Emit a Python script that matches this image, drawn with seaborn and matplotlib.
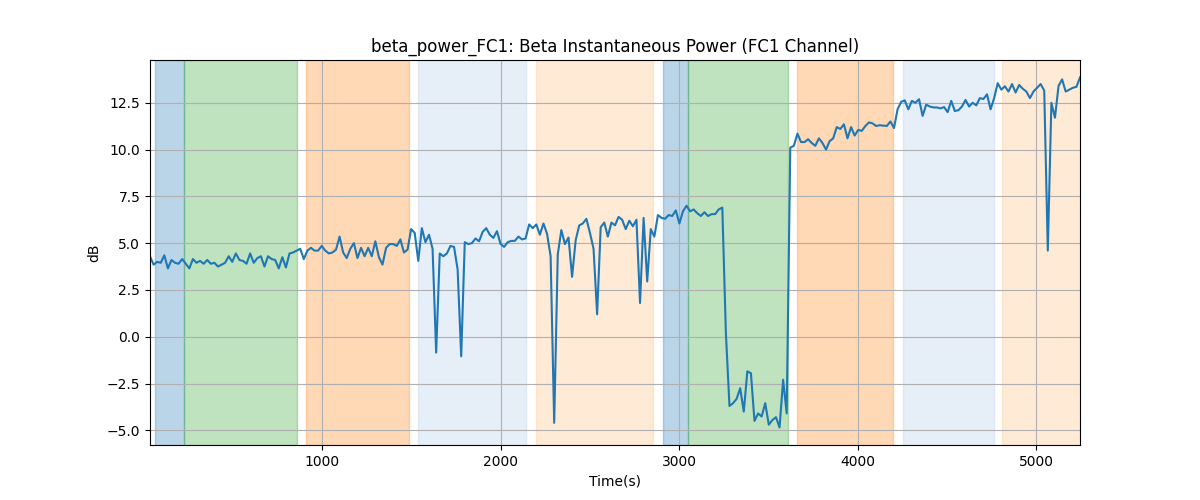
import matplotlib
matplotlib.use("Agg")
import matplotlib.pyplot as plt
import numpy as np
import pandas as pd
import seaborn as sns

# Beta power (dB), one value per ~20 s sample
beta_db = [
    4.3, 3.85, 4.0, 3.95, 4.35, 3.65, 4.1, 3.95, 3.9, 4.15,
    3.9, 3.65, 4.15, 3.95, 4.05, 3.9, 4.1, 3.9, 3.95, 3.75,
    3.85, 3.95, 4.3, 4.0, 4.45, 4.1, 4.05, 3.9, 4.45, 3.95,
    4.2, 4.3, 3.75, 4.3, 4.15, 4.1, 3.65, 4.25, 3.7, 4.45,
    4.5, 4.6, 4.7, 4.15, 4.6, 4.75, 4.6, 4.6, 4.85, 4.6,
    4.45, 4.5, 4.65, 5.35, 4.5, 4.2, 4.7, 5.0, 4.2, 4.75,
    4.3, 4.75, 4.3, 5.1, 4.25, 3.85, 4.75, 4.95, 4.95, 4.85,
    5.2, 4.5, 4.65, 5.75, 5.55, 4.05, 5.8, 5.05, 5.45, 4.7,
    -0.85, 4.45, 4.3, 4.45, 4.85, 4.8, 3.6, -1.05, 5.05, 4.95,
    5.0, 5.25, 5.1, 5.6, 5.8, 5.45, 5.28, 5.64, 4.96, 4.8,
    5.05, 5.12, 5.12, 5.35, 5.2, 5.25, 6.0, 5.8, 6.0, 5.45,
    6.05, 5.5, 4.3, -4.6, 4.4, 5.7, 4.95, 5.3, 3.2, 5.15,
    5.95, 6.05, 6.3, 5.55, 4.7, 1.2, 5.85, 6.1, 5.35, 6.1,
    5.95, 6.4, 6.25, 5.75, 6.2, 5.9, 6.25, 1.8, 6.35, 2.95,
    5.75, 5.35, 6.5, 6.35, 6.3, 6.5, 6.45, 6.75, 6.05, 6.7,
    7.0, 6.7, 6.8, 6.6, 6.45, 6.65, 6.45, 6.55, 6.55, 6.8,
    6.9, 0.2, -3.7, -3.55, -3.32, -2.75, -4.0, -1.85, -1.95, -4.5,
    -4.1, -4.26, -3.55, -4.7, -4.45, -4.3, -4.85, -2.3, -4.1, 10.1,
    10.2, 10.85, 10.4, 10.4, 10.55, 10.35, 10.2, 10.6, 10.35, 10.0,
    10.45, 10.6, 11.2, 11.1, 11.35, 10.6, 11.2, 10.75, 11.05, 11.0,
    11.26, 11.45, 11.4, 11.26, 11.3, 11.28, 11.26, 11.5, 11.15, 12.15,
    12.55, 12.63, 12.15, 12.6, 12.5, 12.69, 11.8, 12.4, 12.3, 12.25,
    12.25, 12.2, 12.27, 12.0, 12.6, 12.06, 12.1, 12.3, 12.65, 12.3,
    12.5, 12.36, 12.75, 12.7, 12.95, 12.15, 12.75, 13.55, 13.2, 13.38,
    13.1, 13.5, 13.05, 13.45, 13.25, 13.1, 12.75, 13.1, 13.3, 13.5,
    13.15, 4.6, 12.5, 11.7, 13.4, 13.75, 13.1, 13.2, 13.3, 13.35,
    13.85,
]
t_start, t_end = 35, 5246

# task phases (start s, end s, colour)
span_starts = [63, 226, 911, 1539, 2200, 2912, 3047, 3659, 4253, 4808]
span_ends = [226, 860, 1489, 2144, 2851, 3047, 3608, 4197, 4763, 5300]
span_colors = ["#1f77b4", "#2ca02c", "#ff7f0e", "#aec7e8", "#ffbb78",
               "#1f77b4", "#2ca02c", "#ff7f0e", "#aec7e8", "#ffbb78"]

df = pd.DataFrame({
    "time": np.linspace(t_start, t_end, len(beta_db)),
    "db": beta_db,
})

fig, ax = plt.subplots(figsize=(12, 5), dpi=100)

for s, e, c in zip(span_starts, span_ends, span_colors):
    ax.axvspan(s, e, color=c, alpha=0.3)

sns.lineplot(data=df, x="time", y="db", ax=ax, color="#1f77b4", linewidth=1.5)

ax.set_xlim(df["time"].min(), df["time"].max())
ax.set_title("beta_power_FC1: Beta Instantaneous Power (FC1 Channel)")
ax.set_xlabel("Time(s)")
ax.set_ylabel("dB")
ax.grid(True)

plt.savefig("out.png")
